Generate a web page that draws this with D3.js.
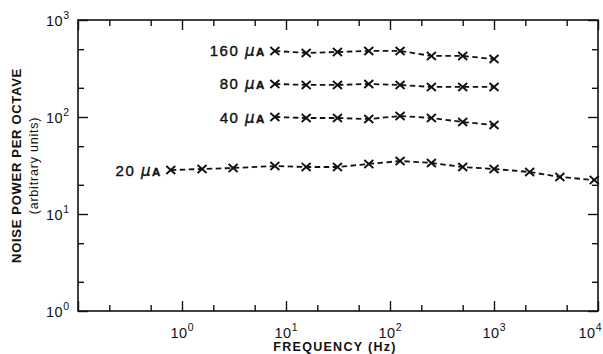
<!DOCTYPE html>
<html><head><meta charset="utf-8">
<script src="https://cdn.jsdelivr.net/npm/d3@7"></script>
<style>
html,body{margin:0;padding:0;background:#fff;}
svg{display:block;}
text{font-family:"Liberation Sans",Arial,sans-serif;fill:#111;}
</style></head>
<body><svg id="c" width="603" height="354"></svg>
<script>
// ---- data ----
const freqUpper = [7.8125, 15.625, 31.25, 62.5, 125, 250, 500, 1000];
const noise160 = [480, 457, 468, 480, 480, 426, 426, 396];
const noise80  = [219, 214, 214, 219, 214, 204, 204, 204];
const noise40  = [100, 97.7, 97.7, 95.3, 102.4, 97.7, 88.8, 82.7];
const freq20   = [0.78, 1.56, 3.1, 7.8125, 15.625, 31.25, 62.5, 125, 250, 500, 1000, 2200, 4300, 9200];
const noise20  = [28.4, 29.1, 29.8, 31.2, 30.5, 30.5, 32.8, 35.2, 33.6, 30.5, 29.1, 27.1, 24.1, 22.4];
const seriesNames = ["160", "80", "40", "20"];
const xTickExps = [0, 1, 2, 3, 4];
const yTickExps = [0, 1, 2, 3];
const xTitle = "FREQUENCY (Hz)";
const yTitle = "NOISE POWER PER OCTAVE";
const ySubTitle = "(arbitrary units)";

const series = [
  {name: seriesNames[0], f: freqUpper, v: noise160},
  {name: seriesNames[1], f: freqUpper, v: noise80},
  {name: seriesNames[2], f: freqUpper, v: noise40},
  {name: seriesNames[3], f: freq20, v: noise20}
];

const W = 603, H = 354;
const m = {l: 78, r: 5, t: 20, b: 43};
const svg = d3.select("#c");
const x = d3.scaleLog().domain([0.1, 1e4]).range([m.l, W - m.r]);
const y = d3.scaleLog().domain([1, 1000]).range([H - m.b, m.t]);

const ink = "#111";
const xMinor = [], yMinor = [];
for (let e = -1; e < 4; e++) { xMinor.push(2 * 10 ** e, 5 * 10 ** e); }
for (let e = 0; e < 3; e++) { yMinor.push(2 * 10 ** e, 5 * 10 ** e); }
const xMajor = [0.1, 1, 10, 100, 1000, 10000];
const yMajor = [1, 10, 100, 1000];

function axisGroup(axisFn, scale, vals, size, transform) {
  const g = svg.append("g").attr("transform", transform)
    .call(axisFn(scale).tickValues(vals).tickSize(size).tickFormat(""));
  g.select(".domain").remove();
  g.selectAll("line").attr("stroke", ink).attr("stroke-width", 1.4);
  return g;
}
axisGroup(d3.axisTop, x, xMajor, 10, `translate(0,${H - m.b})`);
axisGroup(d3.axisTop, x, xMinor, 6, `translate(0,${H - m.b})`);
axisGroup(d3.axisBottom, x, xMajor, 10, `translate(0,${m.t})`);
axisGroup(d3.axisBottom, x, xMinor, 6, `translate(0,${m.t})`);
axisGroup(d3.axisRight, y, yMajor, 10, `translate(${m.l},0)`);
axisGroup(d3.axisRight, y, yMinor, 6, `translate(${m.l},0)`);
axisGroup(d3.axisLeft, y, yMajor, 10, `translate(${W - m.r},0)`);
axisGroup(d3.axisLeft, y, yMinor, 6, `translate(${W - m.r},0)`);

svg.append("rect").attr("x", m.l).attr("y", m.t)
  .attr("width", W - m.l - m.r).attr("height", H - m.t - m.b)
  .attr("fill", "none").attr("stroke", ink).attr("stroke-width", 1.6);

function powLabel(sel, exp) {
  sel.append("tspan").text("10").attr("font-size", 14.5).attr("letter-spacing", 0.5);
  sel.append("tspan").text(exp).attr("font-size", 10.5).attr("dy", -7);
}
xTickExps.forEach(e => {
  const t = svg.append("text")
    .attr("x", x(10 ** e) + (e === 4 ? -8 : 0))
    .attr("y", H - m.b + 27)
    .attr("text-anchor", "middle");
  powLabel(t, e);
});
yTickExps.forEach(e => {
  const t = svg.append("text")
    .attr("x", m.l - 9)
    .attr("y", y(10 ** e) + 6)
    .attr("text-anchor", "end");
  powLabel(t, e);
});

svg.append("text").attr("x", 335).attr("y", H - 3)
  .attr("text-anchor", "middle").attr("font-size", 12.5).attr("font-weight", "bold")
  .attr("letter-spacing", 1.3).text(xTitle);
svg.append("text").attr("transform", `translate(21,${(m.t + H - m.b) / 2}) rotate(-90)`)
  .attr("text-anchor", "middle").attr("font-size", 13).attr("font-weight", "bold")
  .attr("letter-spacing", 0.7).text(yTitle);
svg.append("text").attr("transform", `translate(38,${(m.t + H - m.b) / 2}) rotate(-90)`)
  .attr("text-anchor", "middle").attr("font-size", 12.5)
  .attr("letter-spacing", 0.8).text(ySubTitle);

const line = d3.line().x(d => x(d[0])).y(d => y(d[1]));
series.forEach(s => {
  const pts = s.f.map((f, i) => [f, s.v[i]]);
  svg.append("path").attr("d", line(pts)).attr("fill", "none")
    .attr("stroke", ink).attr("stroke-width", 1.8).attr("stroke-dasharray", "5.5,3.5");
  const mk = svg.append("g");
  pts.forEach(p => {
    const cx = x(p[0]), cy = y(p[1]);
    mk.append("path")
      .attr("d", `M${cx - 4.5},${cy - 4}L${cx + 4.5},${cy + 4}M${cx + 4.5},${cy - 4}L${cx - 4.5},${cy + 4}`)
      .attr("stroke", ink).attr("stroke-width", 1.9).attr("fill", "none");
  });
  const lab = svg.append("text")
    .attr("x", x(pts[0][0]) - 9).attr("y", y(pts[0][1]) + 5.5)
    .attr("text-anchor", "end").attr("font-size", 15).attr("letter-spacing", 1.5)
    .attr("stroke", ink).attr("stroke-width", 0.4);
  lab.append("tspan").text(s.name + " ");
  lab.append("tspan").text("μ").attr("font-style", "italic").attr("font-family", "DejaVu Sans");
  lab.append("tspan").text("A").attr("font-size", 11.5).attr("font-weight", "bold");
});
</script></body></html>
